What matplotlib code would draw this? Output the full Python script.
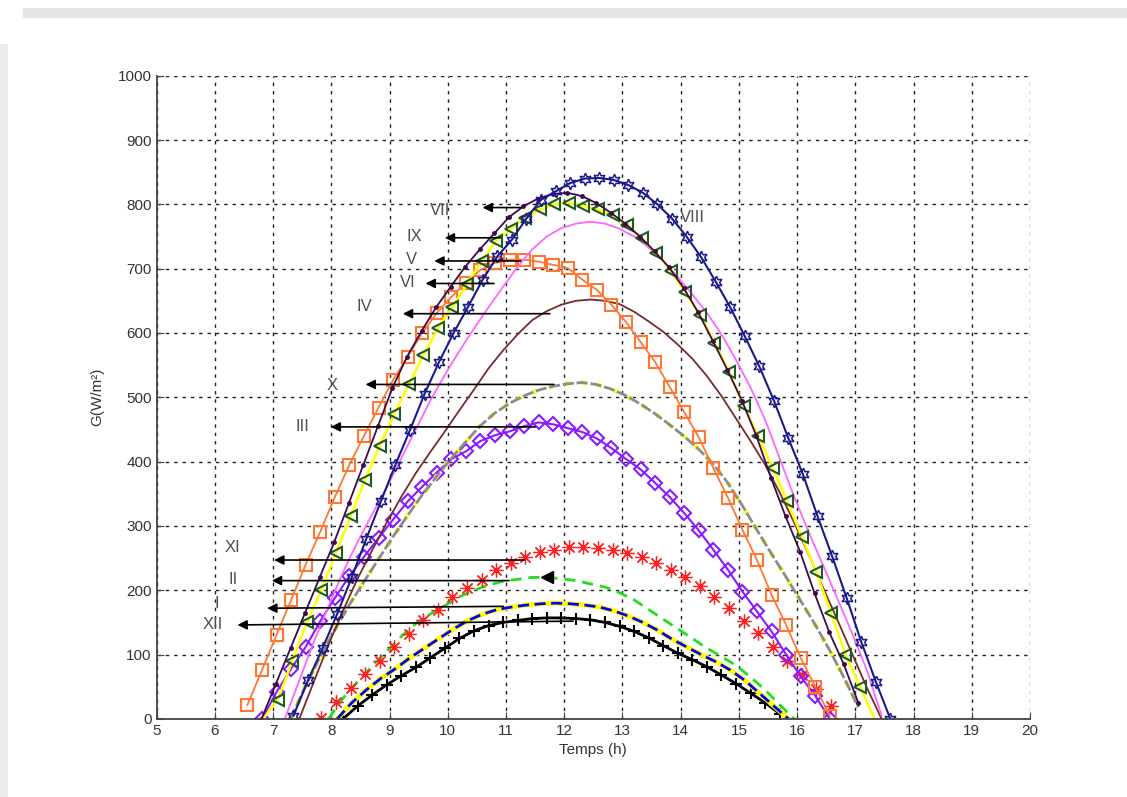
import matplotlib.pyplot as plt
from matplotlib.patches import Rectangle
import numpy as np

STEP = 0.25  # hours between two points of a series

# monthly irradiance curves, G in W/m2, one value every STEP from the start hour
viii_start = 7.35
viii = [5, 60, 110, 163, 220, 280, 338, 395, 449, 505, 555, 600, 641, 683, 719, 745, 778, 807,
        820, 833, 840, 841, 838, 830, 818, 800, 778, 750, 718, 680, 640, 595, 548, 495, 436,
        380, 315, 253, 188, 120, 58, 0]
vii_start = 6.8
vii = [0, 55, 110, 165, 220, 275, 335, 395, 455, 515, 563, 603, 640, 672, 703, 730, 755, 780,
       797, 809, 816, 818, 813, 802, 787, 770, 750, 727, 702, 670, 632, 588, 543, 495, 440,
       375, 315, 260, 195, 135, 85, 25]
ix_start = 6.83
ix = [0, 30, 90, 150, 200, 258, 315, 372, 425, 474, 520, 565, 607, 641, 676, 712, 743, 762,
      779, 792, 800, 802, 798, 792, 783, 768, 748, 724, 697, 663, 628, 585, 540, 487, 440,
      390, 338, 283, 228, 165, 100, 50, 0]
vi_start = 7.2
vi = [0, 60, 120, 175, 228, 275, 318, 360, 405, 450, 495, 535, 572, 607, 640, 672, 703, 730,
      750, 763, 770, 773, 770, 762, 750, 733, 712, 687, 660, 631, 598, 558, 515, 465, 405,
      345, 290, 238, 185, 132, 75, 5]
v_start = 6.56
v = [22, 76, 131, 185, 240, 291, 345, 395, 440, 484, 527, 563, 600, 631, 656, 678, 698, 709,
     714, 714, 711, 706, 701, 683, 667, 644, 617, 586, 555, 516, 477, 438, 390, 344, 294,
     247, 193, 146, 95, 50, 5]
iv_start = 7.45
iv = [0, 58, 115, 168, 218, 262, 305, 345, 382, 415, 447, 480, 512, 545, 573, 598, 620, 634,
      644, 650, 652, 650, 645, 633, 618, 602, 582, 560, 533, 502, 467, 432, 395, 352, 305,
      255, 203, 152, 100, 48, 0]
x_start = 7.3
x_m = [0, 50, 95, 137, 176, 212, 247, 282, 315, 347, 376, 404, 430, 455, 475, 490, 502, 511,
       517, 521, 523, 520, 513, 503, 490, 475, 458, 440, 420, 397, 368, 333, 295, 258, 222,
       185, 148, 108, 65, 18]
iii_start = 6.81
iii = [0, 42, 78, 112, 152, 188, 222, 252, 281, 310, 338, 361, 383, 404, 416, 432, 441, 447,
       455, 461, 458, 452, 446, 436, 421, 404, 388, 367, 345, 320, 293, 263, 232, 198, 167,
       136, 100, 66, 36, 0]
xi_start = 7.83
xi = [2, 26, 48, 70, 90, 112, 132, 153, 170, 190, 204, 216, 231, 243, 251, 259, 263, 267,
      268, 266, 263, 258, 252, 243, 232, 220, 206, 190, 172, 152, 133, 112, 90, 68, 47, 20]
ii_start = 7.95
ii = [0, 32, 58, 82, 105, 128, 148, 163, 176, 190, 200, 208, 214, 217, 220, 220, 218, 215,
      210, 205, 196, 185, 170, 155, 140, 125, 110, 97, 83, 65, 45, 22, 0]
i_start = 8.1
i_m = [0, 25, 45, 63, 78, 95, 110, 125, 140, 153, 163, 170, 174, 177, 179, 180, 179, 177,
       174, 168, 160, 150, 138, 124, 112, 100, 89, 76, 60, 40, 20, 0]
xii_start = 8.2
xii = [0, 20, 37, 53, 67, 80, 95, 110, 125, 137, 145, 150, 153, 156, 157, 157, 156, 154,
       150, 144, 136, 126, 114, 102, 92, 81, 68, 55, 40, 25, 8]

# month labels: text position, arrow head, arrow tail
month_labels = ["VII", "IX", "V", "VI", "IV", "X", "III", "XI", "II", "I", "XII"]
label_xy = [(9.86, 790), (9.43, 750), (9.38, 714), (9.31, 678), (8.57, 641), (8.02, 518),
            (7.51, 455), (6.31, 266), (6.31, 216), (6.03, 180), (5.96, 146)]
head_xy = [(10.55, 795), (9.9, 748), (9.72, 712), (9.57, 677), (9.18, 630), (8.54, 520),
           (7.94, 454), (6.97, 247), (6.93, 215), (6.85, 172), (6.34, 146)]
tail_xy = [(11.3, 795), (10.95, 748), (11.3, 712), (10.84, 677), (11.8, 630), (11.87, 520),
           (11.55, 454), (11.36, 247), (11.1, 215), (11.0, 175), (12.2, 152)]


def hours(start, vals):
    return start + STEP * np.arange(len(vals))


fig = plt.figure(figsize=(11.27, 7.97), dpi=100)
# screenshot frame
fig.add_artist(Rectangle((0.02, 0.978), 0.98, 0.012, transform=fig.transFigure,
                         color="#e6e6e6", lw=0))
fig.add_artist(Rectangle((0.0, 0.0), 0.007, 0.945, transform=fig.transFigure,
                         color="#ececec", lw=0))
ax = fig.add_axes([0.139, 0.098, 0.775, 0.807])

# low winter curves
ax.plot(hours(xii_start, xii), xii, color="black", lw=2, marker="+", ms=8, mew=1.5)
ax.plot(hours(i_start, i_m), i_m, color="#ffff00", lw=3.5)
ax.plot(hours(i_start, i_m), i_m, color="#0000ff", lw=2, ls=(0, (4, 2)))
ax.plot(hours(ii_start, ii), ii, color="#22dd22", lw=2, ls=(0, (4, 2.5)))
ax.plot(hours(ii_start, ii)[15], ii[15], color="black", marker="<", ms=9)
ax.plot(hours(xi_start, xi), xi, ls="none", marker=(8, 2, 0), ms=10, mew=0.9,
        color="#ff2020")

# medium curves
ax.plot(hours(iii_start, iii), iii, color="#8a1aff", lw=1.5, marker="D", ms=7,
        mfc="none", mew=1.5)
ax.plot(hours(x_start, x_m), x_m, color="#ffff30", lw=3.4, ls=(0, (1, 2.5)))
ax.plot(hours(x_start, x_m), x_m, color="#8c8c8c", lw=2, ls=(0, (4, 1)))
ax.plot(hours(iv_start, iv), iv, color="#7a2a2a", lw=1.3)

# summer curves
ax.plot(hours(v_start, v), v, color="#ff7733", lw=1.3, marker="s", ms=9, mfc="none", mew=1.5)
ax.plot(hours(vi_start, vi), vi, color="#ff66ff", lw=1.3)
ax.plot(hours(ix_start, ix), ix, color="#ffff00", lw=1.8, marker="<", ms=9, mfc="none",
        mec="#1f5a1f", mew=1.5, markevery=slice(1, -1))
ax.plot(hours(vii_start, vii), vii, color="#3f0a48", lw=1.3, marker=".", ms=5)
ax.plot(hours(viii_start, viii), viii, color="#1a1a8c", lw=1.5, marker=(6, 1, 0), ms=9,
        mfc="none", mew=1.1)

for lab, txy, hxy, kxy in zip(month_labels, label_xy, head_xy, tail_xy):
    ax.annotate("", xy=hxy, xytext=kxy,
                arrowprops=dict(arrowstyle="-|>", color="black", lw=1.2, mutation_scale=14))
    ax.text(txy[0], txy[1], lab, ha="center", va="center", fontsize=12,
            color="#505050", family="Liberation Sans")
ax.text(14.2, 780, "VIII", ha="center", va="center", fontsize=12, color="#505050",
        family="Liberation Sans")

ax.set_xlim(5, 20)
ax.set_ylim(0, 1000)
ax.set_xticks(np.arange(5, 21, 1))
ax.set_yticks(np.arange(0, 1001, 100))
ax.grid(True, color="#222222", ls=(0, (2.5, 3.5)), lw=1)
ax.set_axisbelow(True)
for s in ["top", "right"]:
    ax.spines[s].set_visible(False)
for s in ["left", "bottom"]:
    ax.spines[s].set_color("#444444")
    ax.spines[s].set_linewidth(1.3)
ax.tick_params(direction="in", length=5, labelsize=11, labelcolor="#333333", color="#444444")
for t in ax.get_xticklabels() + ax.get_yticklabels():
    t.set_family("Liberation Sans")
ax.set_xlabel("Temps (h)", fontsize=11, family="Liberation Sans", color="#333333", labelpad=4)
ax.set_ylabel("G(W/m²)", fontsize=11, family="Liberation Sans", color="#333333", labelpad=10)

fig.savefig("out.png", dpi=100)
